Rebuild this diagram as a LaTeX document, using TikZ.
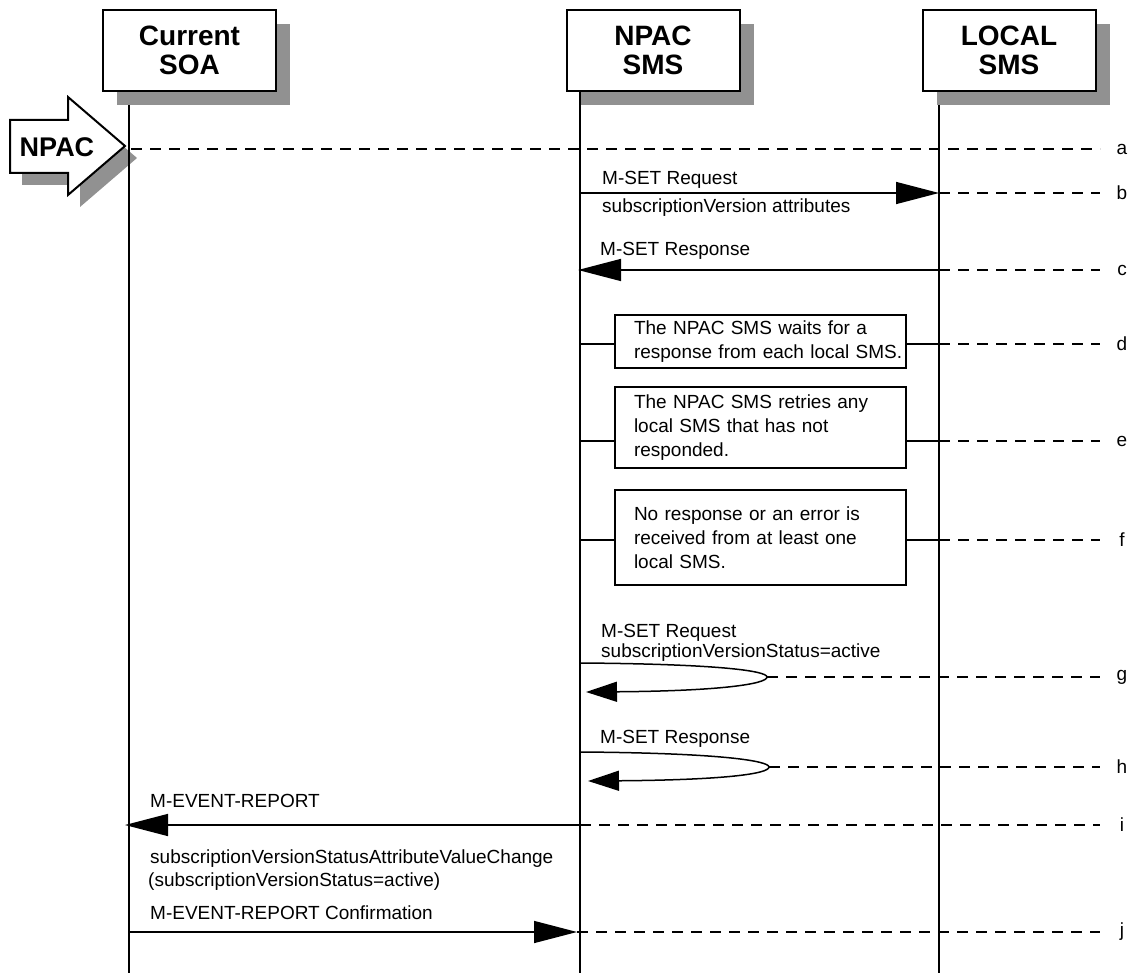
\documentclass[tikz,border=0pt]{standalone}
\usepackage{fontspec}
\setmainfont{Liberation Sans}
\usetikzlibrary{arrows.meta,shadows}
\definecolor{shgray}{RGB}{145,145,145}
\begin{document}
\begin{tikzpicture}[x=1pt,y=-1pt,
  hdr/.style={draw,line width=2pt,fill=white,minimum width=173pt,minimum height=81pt,inner sep=0pt,align=center,
    font=\fontsize{28pt}{29pt}\bfseries\selectfont,
    drop shadow={shadow xshift=14pt,shadow yshift=-14pt,fill=shgray,opacity=1}},
  life/.style={line width=1.6pt},
  msg/.style={line width=1.5pt},
  dashln/.style={line width=1.6pt,dash pattern=on 11pt off 8pt},
  txt/.style={anchor=base west,inner sep=0pt,font=\fontsize{19pt}{23pt}\selectfont},
  rowlbl/.style={inner sep=0pt,font=\fontsize{19pt}{23pt}\selectfont},
  procbox/.style={draw,line width=1.5pt,fill=white,text width=253pt,inner xsep=19pt,inner ysep=2pt,align=left,
    font=\fontsize{19pt}{24pt}\selectfont},
  bigtip/.style={-{Triangle[length=43pt,width=22pt]}},
  looptip/.style={-{Triangle[length=31pt,width=20pt]}}
]
\useasboundingbox (0,0) rectangle (1132,973);

% NPAC block arrow
\fill[shgray] (22,132) -- (80,132) -- (80,109) -- (137,158) -- (80,207) -- (80,185) -- (22,185) -- cycle;
\draw[line width=2pt,fill=white] (10,120) -- (68,120) -- (68,97) -- (125,146) -- (68,195) -- (68,173) -- (10,173) -- cycle;
\node[inner sep=0pt,font=\fontsize{27pt}{27pt}\bfseries\selectfont] (npacarrow) at (57,147) {NPAC};

% lifelines
\coordinate (soaT) at (129,91);   \coordinate (soaB) at (129,973);
\coordinate (npacT) at (580,91);  \coordinate (npacB) at (580,973);
\coordinate (locT) at (939,91);   \coordinate (locB) at (939,973);
\draw[life] (soaT) -- (soaB);
\draw[life] (npacT) -- (npacB);
\draw[life] (locT) -- (locB);

% headers
\node[hdr] (soa) at (189.5,50.5) {Current\\SOA};
\node[hdr] (npac) at (653,50.5) {NPAC\\SMS};
\node[hdr] (local) at (1009,50.5) {LOCAL\\SMS};

% row a
\coordinate (a1) at (131,149); \coordinate (aE) at (1100,149);
\draw[dashln,line width=2.3pt] (a1) -- (aE);
\node[rowlbl] (la) at (1122,149) {a};

% row b
\coordinate (b1) at (580,193); \coordinate (b2) at (939,193); \coordinate (bE) at (1100,193);
\draw[msg,bigtip] (b1) -- (b2);
\draw[dashln] (b2) -- (bE);
\node[txt] (tb1) at (602,185) {M-SET Request};
\node[txt] (tb2) at (602,213) {subscriptionVersion attributes};
\node[rowlbl] (lb) at (1122,193) {b};

% row c
\coordinate (c1) at (578,270); \coordinate (c2) at (939,270); \coordinate (cE) at (1100,270);
\draw[msg,bigtip] (c2) -- (c1);
\draw[dashln] (c2) -- (cE);
\node[txt] (tc1) at (600,256) {M-SET Response};
\node[rowlbl] (lc) at (1122,270) {c};

% row d
\coordinate (d1) at (580,344); \coordinate (d2) at (939,344); \coordinate (dE) at (1100,344);
\node[procbox,minimum height=53pt] (dbox) at (760.5,341.5) {The NPAC SMS waits for a\\\mbox{response from each local SMS.}};
\draw[msg] (d1) -- (d1 -| dbox.west);
\draw[msg] (d1 -| dbox.east) -- (d2);
\draw[dashln] (d2) -- (dE);
\node[rowlbl] (ld) at (1122,344) {d};

% row e
\coordinate (e1) at (580,441); \coordinate (e2) at (939,441); \coordinate (eE) at (1100,441);
\node[procbox,minimum height=81pt] (ebox) at (760.5,427.5) {The NPAC SMS retries any\\local SMS that has not\\responded.};
\draw[msg] (e1) -- (e1 -| ebox.west);
\draw[msg] (e1 -| ebox.east) -- (e2);
\draw[dashln] (e2) -- (eE);
\node[rowlbl] (le) at (1122,441) {e};

% row f
\coordinate (f1) at (580,540); \coordinate (f2) at (939,540); \coordinate (fE) at (1100,540);
\node[procbox,minimum height=95pt] (fbox) at (760.5,537.5) {No response or an error is\\received from at least one\\local SMS.};
\draw[msg] (f1) -- (f1 -| fbox.west);
\draw[msg] (f1 -| fbox.east) -- (f2);
\draw[dashln] (f2) -- (fE);
\node[rowlbl] (lf) at (1122,540) {f};

% row g
\coordinate (g1) at (580,663); \coordinate (g2) at (767,677); \coordinate (g3) at (586,692); \coordinate (gE) at (1100,677);
\draw[msg,looptip] (g1) .. controls (720,664) and (767,671) .. (g2) .. controls (767,684) and (720,691) .. (g3);
\draw[dashln] (g2) -- (gE);
\node[txt] (tg1) at (601,637) {M-SET Request};
\node[txt] (tg2) at (601,657) {subscriptionVersionStatus=active};
\node[rowlbl] (lg) at (1122,677) {g};

% row h
\coordinate (h1) at (580,752); \coordinate (h2) at (769,767); \coordinate (h3) at (588,781); \coordinate (hE) at (1100,767);
\draw[msg,looptip] (h1) .. controls (722,753) and (769,761) .. (h2) .. controls (769,774) and (722,780) .. (h3);
\draw[dashln] (h2) -- (hE);
\node[txt] (th1) at (600,743) {M-SET Response};
\node[rowlbl] (lh) at (1122,767) {h};

% row i
\coordinate (i0) at (125,825); \coordinate (i1) at (580,825); \coordinate (iE) at (1100,825);
\draw[msg,bigtip] (i1) -- (i0);
\draw[dashln] (i1) -- (iE);
\node[txt] (ti1) at (150,807) {M-EVENT-REPORT};
\node[txt] (ti2) at (150,863) {subscriptionVersionStatusAttributeValueChange};
\node[txt] (ti3) at (148,886) {(subscriptionVersionStatus=active)};
\node[rowlbl] (li) at (1122,825) {i};

% row j
\coordinate (j0) at (129,932); \coordinate (j1) at (577,932); \coordinate (jE) at (1100,932);
\draw[msg,bigtip] (j0) -- (j1);
\draw[dashln] (j1) -- (jE);
\node[txt] (tj1) at (150,919) {M-EVENT-REPORT Confirmation};
\node[rowlbl] (lj) at (1122,932) {j};
\end{tikzpicture}
\end{document}
